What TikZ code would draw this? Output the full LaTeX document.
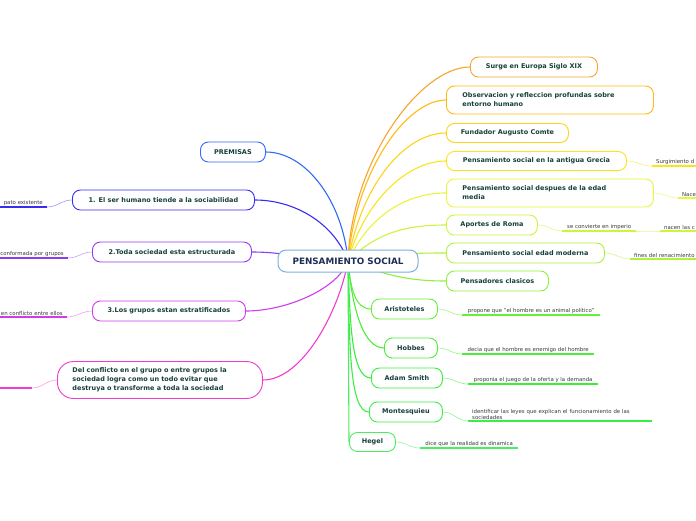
\documentclass[tikz,border=0pt]{standalone}
\usepackage{fontspec}
\setmainfont{DejaVu Sans}
\usetikzlibrary{backgrounds}

\definecolor{txt}{HTML}{16403A}
\definecolor{navy}{HTML}{1F2D56}
\definecolor{gris}{HTML}{3A3A3A}
\definecolor{cRaiz}{HTML}{7DB0DD}
\definecolor{cPrem}{HTML}{2F6BF5}
\definecolor{cSoc}{HTML}{3A2CF0}
\definecolor{cEstr}{HTML}{8E3CF2}
\definecolor{cEstra}{HTML}{D03CEB}
\definecolor{cConf}{HTML}{F23CCF}
\definecolor{cSurge}{HTML}{F6A530}
\definecolor{cObs}{HTML}{FFBB10}
\definecolor{cComte}{HTML}{FFD21A}
\definecolor{cGrec}{HTML}{F8E61A}
\definecolor{cMedia}{HTML}{E8F53A}
\definecolor{cRoma}{HTML}{CDF53A}
\definecolor{cMod}{HTML}{AEF23A}
\definecolor{cClas}{HTML}{8FF03A}
\definecolor{cArist}{HTML}{66EE3A}
\definecolor{cHobb}{HTML}{4CEE3A}
\definecolor{cAdam}{HTML}{3AEE3A}
\definecolor{cMont}{HTML}{3AEE48}
\definecolor{cHeg}{HTML}{4BEE5C}

\newcommand\fnodo{\fontsize{6.5}{9}\selectfont\bfseries}
\newcommand\fraiz{\fontsize{8.8}{10}\selectfont\bfseries}
\newcommand\fhoja{\fontsize{5.4}{6.2}\selectfont}

\begin{document}
\begin{tikzpicture}[
    x=1pt, y=1pt,
    idea/.style={draw, fill=white, rounded corners=8pt, line width=0.9pt, text=txt,
      font=\fnodo, minimum height=20pt, inner xsep=8pt, anchor=west},
    hoja/.style={inner xsep=4pt, inner ysep=1.5pt, font=\fhoja, text=gris,
      align=left, anchor=south west},
    tallo/.style={line width=1.1pt},
    hilo/.style={line width=0.6pt},
    raya/.style={line width=1.4pt},
  ]
  \useasboundingbox (0,0) rectangle (696,-520);

  % central idea
  \node[draw=cRaiz, fill=white, rounded corners=8pt, line width=1pt, font=\fraiz, text=navy,
    minimum width=140pt, minimum height=22pt] (raiz) at (348,-261) {PENSAMIENTO SOCIAL};

  % ideas on the right
  \node[idea, draw=cSurge, minimum width=127pt] (surge) at (470,-67) {Surge en Europa Siglo XIX};
  \node[idea, draw=cObs, minimum width=207pt, minimum height=28pt, text width=175pt, align=left] (obs) at (446,-100) {Observacion y refleccion profundas sobre\\entorno humano};
  \node[idea, draw=cComte, minimum width=122pt, minimum height=19pt] (comte) at (446,-133) {Fundador Augusto Comte};
  \node[idea, draw=cGrec, minimum width=180pt, minimum height=19pt] (grecia) at (446,-161) {Pensamiento social en la antigua Grecia};
  \node[idea, draw=cMedia, minimum width=207pt, minimum height=28pt, text width=175pt, align=left] (media) at (446,-193) {Pensamiento social despues de la edad\\media};
  \node[idea, draw=cRoma, minimum width=91pt] (roma) at (446,-225) {Aportes de Roma};
  \node[idea, draw=cMod, minimum width=158pt] (moderna) at (446,-253) {Pensamiento social edad moderna};
  \node[idea, draw=cClas, minimum width=102pt] (clasicos) at (446,-281) {Pensadores clasicos};

  % thinkers
  \node[idea, draw=cArist, minimum width=66pt] (aristoteles) at (371,-309) {Aristoteles};
  \node[idea, draw=cHobb, minimum width=53pt] (hobbes) at (384,-348) {Hobbes};
  \node[idea, draw=cAdam, minimum width=71pt] (smith) at (371,-378) {Adam Smith};
  \node[idea, draw=cMont, minimum width=73pt] (montesquieu) at (369,-412) {Montesquieu};
  \node[idea, draw=cHeg, minimum width=46pt, minimum height=19pt] (hegel) at (349,-442) {Hegel};

  % premises on the left
  \node[idea, draw=cPrem, minimum width=65pt] (premisas) at (200,-152) {PREMISAS};
  \node[idea, draw=cSoc, minimum width=182pt] (p1) at (72,-200) {1. El ser humano tiende a la sociabilidad};
  \node[idea, draw=cEstr, minimum width=159pt] (p2) at (92,-252) {2.Toda sociedad esta estructurada};
  \node[idea, draw=cEstra, minimum width=153pt] (p3) at (92,-311) {3.Los grupos estan estratificados};
  \node[idea, draw=cConf, minimum width=205pt, minimum height=37pt, text width=175pt, align=left, rounded corners=16pt] (p4) at (57,-380) {Del conflicto en el grupo o entre grupos la\\sociedad logra como un todo evitar que\\destruya o transforme a toda la sociedad};

  % leaves on the right
  \node[hoja, text width=60pt] (hGrec) at (652,-166) {Surgimiento d};
  \node[hoja, text width=40pt] (hMedia) at (678,-198) {Nace};
  \node[hoja, minimum width=74pt] (hRoma) at (562,-231) {se convierte en imperio};
  \node[hoja, text width=50pt] (hRoma2) at (660,-231) {nacen las c};
  \node[hoja, text width=70pt] (hMod) at (630,-259) {fines del renacimiento};
  \node[hoja, minimum width=138pt] (hArist) at (462,-315) {propone que "el hombre es un animal politico"};
  \node[hoja, minimum width=132pt] (hHobb) at (462,-354) {decia que el hombre es enemigo del hombre};
  \node[hoja, minimum width=130pt] (hAdam) at (468,-384) {proponia el juego de la oferta y la demanda};
  \node[hoja, text width=176pt] (hMont) at (468,-421) {identificar las leyes que explican el funcionamiento de las\\sociedades};
  \node[hoja, minimum width=98pt] (hHeg) at (420,-448) {dice que la realidad es dinamica};

  % leaves on the left
  \node[hoja, anchor=south east, align=right, text width=60pt] (hSoc) at (47,-207) {pato existente};
  \node[hoja, anchor=south east, align=right, text width=70pt] (hEstr) at (68,-258) {conformada por grupos};
  \node[hoja, anchor=south east, align=right, text width=70pt] (hEstra) at (67,-317) {en conflicto entre ellos};
  \node[hoja, anchor=south east, text width=40pt] (hConf) at (32,-388) {};

  % underlines
  \draw[raya, cGrec] (hGrec.south west) -- (hGrec.south east);
  \draw[raya, cMedia] (hMedia.south west) -- (hMedia.south east);
  \draw[raya, cRoma] (hRoma.south west) -- (hRoma.south east);
  \draw[raya, cRoma] (hRoma2.south west) -- (hRoma2.south east);
  \draw[raya, cMod] (hMod.south west) -- (hMod.south east);
  \draw[raya, cArist] (hArist.south west) -- (hArist.south east);
  \draw[raya, cHobb] (hHobb.south west) -- (hHobb.south east);
  \draw[raya, cAdam] (hAdam.south west) -- (hAdam.south east);
  \draw[raya, cMont] (hMont.south west) -- (hMont.south east);
  \draw[raya, cHeg] (hHeg.south west) -- (hHeg.south east);
  \draw[raya, cSoc] (hSoc.south west) -- (hSoc.south east);
  \draw[raya, cEstr] (hEstr.south west) -- (hEstr.south east);
  \draw[raya, cEstra] (hEstra.south west) -- (hEstra.south east);
  \draw[raya, cConf] (hConf.south west) -- (hConf.south east);

  \begin{scope}[on background layer]
    % branches from the central idea
    \draw[tallo, cSurge] (raiz.center) to[out=88, in=180, out distance=100pt, in distance=50pt] (surge.west);
    \draw[tallo, cObs] (raiz.center) to[out=85, in=180, out distance=90pt, in distance=40pt] (obs.west);
    \draw[tallo, cComte] (raiz.center) to[out=80, in=180, out distance=80pt, in distance=40pt] (comte.west);
    \draw[tallo, cGrec] (raiz.center) to[out=75, in=180, out distance=60pt, in distance=40pt] (grecia.west);
    \draw[tallo, cMedia] (raiz.center) to[out=65, in=180, out distance=50pt, in distance=40pt] (media.west);
    \draw[tallo, cRoma] (raiz.center) to[out=45, in=180, out distance=40pt, in distance=40pt] (roma.west);
    \draw[tallo, cMod] (raiz.center) to[out=10, in=180, out distance=40pt, in distance=40pt] (moderna.west);
    \draw[tallo, cClas] (raiz.center) to[out=-20, in=180, out distance=40pt, in distance=40pt] (clasicos.west);
    \draw[tallo, cArist] (raiz.center) to[out=-85, in=180, out distance=30pt, in distance=15pt] (aristoteles.west);
    \draw[tallo, cHobb] (raiz.center) to[out=-85, in=180, out distance=50pt, in distance=20pt] (hobbes.west);
    \draw[tallo, cAdam] (raiz.center) to[out=-88, in=180, out distance=60pt, in distance=20pt] (smith.west);
    \draw[tallo, cMont] (raiz.center) to[out=-89, in=180, out distance=80pt, in distance=20pt] (montesquieu.west);
    \draw[tallo, cHeg] (raiz.center) -- (hegel.west);
    \draw[tallo, cPrem] (raiz.center) to[out=95, in=0, out distance=60pt, in distance=40pt] (premisas.east);
    \draw[tallo, cSoc] (raiz.center) to[out=110, in=0, out distance=40pt, in distance=40pt] (p1.east);
    \draw[tallo, cEstr] (raiz.center) to[out=180, in=0] (p2.east);
    \draw[tallo, cEstra] (raiz.center) to[out=-110, in=0, out distance=30pt, in distance=40pt] (p3.east);
    \draw[tallo, cConf] (raiz.center) to[out=-100, in=0, out distance=50pt, in distance=40pt] (p4.east);

    % thin links to the leaves
    \draw[hilo, cGrec!60] (grecia.east) to[out=0, in=180] (hGrec.south west);
    \draw[hilo, cMedia!60] (media.east) to[out=0, in=180] (hMedia.south west);
    \draw[hilo, cRoma!60] (roma.east) to[out=0, in=180] (hRoma.south west);
    \draw[hilo, cRoma!60] (hRoma.south east) to[out=0, in=180] (hRoma2.south west);
    \draw[hilo, cMod!60] (moderna.east) to[out=0, in=180] (hMod.south west);
    \draw[hilo, cArist!60] (aristoteles.east) to[out=0, in=180] (hArist.south west);
    \draw[hilo, cHobb!60] (hobbes.east) to[out=0, in=180] (hHobb.south west);
    \draw[hilo, cAdam!60] (smith.east) to[out=0, in=180] (hAdam.south west);
    \draw[hilo, cMont!60] (montesquieu.east) to[out=0, in=180] (hMont.south west);
    \draw[hilo, cHeg!60] (hegel.east) to[out=0, in=180] (hHeg.south west);
    \draw[hilo, cSoc!50] (p1.west) to[out=180, in=0] (hSoc.south east);
    \draw[hilo, cEstr!50] (p2.west) to[out=180, in=0] (hEstr.south east);
    \draw[hilo, cEstra!50] (p3.west) to[out=180, in=0] (hEstra.south east);
    \draw[hilo, cConf!50] (p4.west) to[out=180, in=0] (hConf.south east);
  \end{scope}

\end{tikzpicture}
\end{document}
